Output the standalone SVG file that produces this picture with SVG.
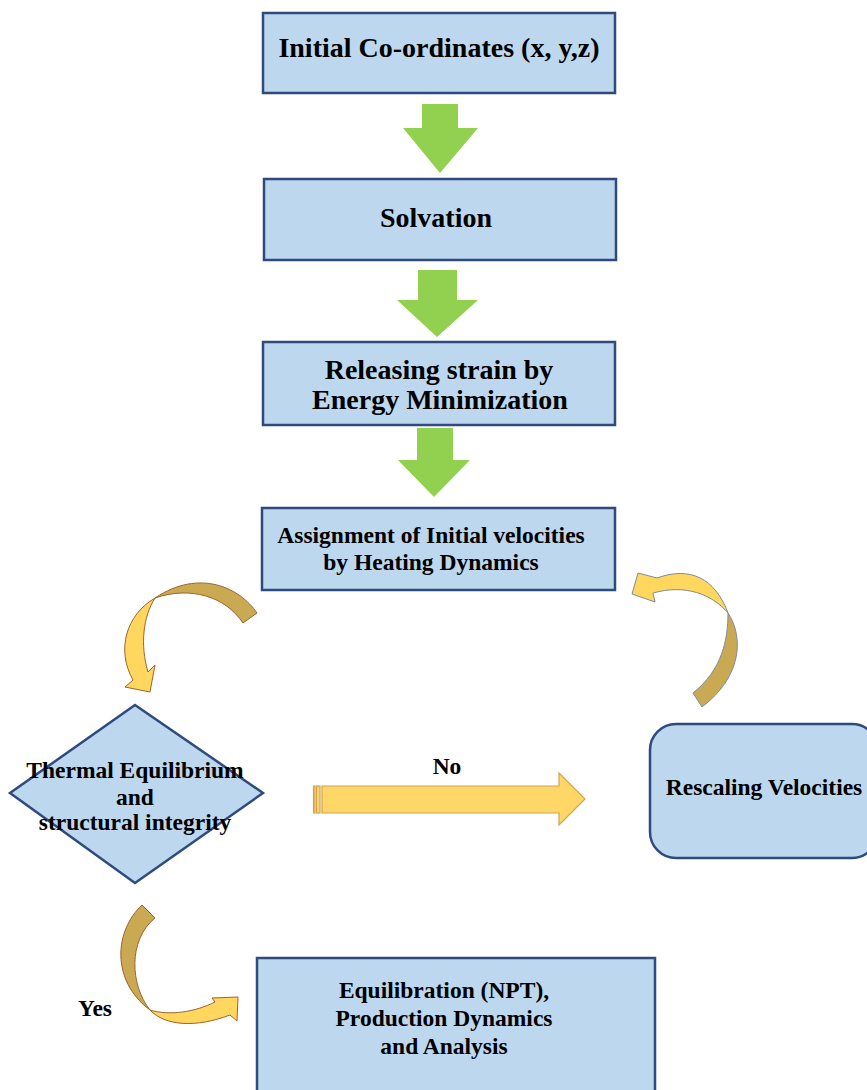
<svg xmlns="http://www.w3.org/2000/svg" width="867" height="1090" viewBox="0 0 867 1090">
  <style>
    .box { fill: #BDD7EE; stroke: #2F4A7C; stroke-width: 2.5; }
    .lbl { font-family: "Liberation Serif", "Times New Roman", serif; font-weight: bold; fill: #000; text-anchor: middle; }
    .big { font-size: 28px; }
    .mid { font-size: 23.5px; }
    .down { fill: #92D050; }
    .dark { fill: #C9AA52; }
    .light { fill: #FFD75F; }
    .brown { stroke: #A0622D; stroke-width: 1; stroke-linejoin: round; }
    .grey { stroke: #7E8C9E; stroke-width: 1; stroke-linejoin: round; }
    .flat { fill: #FFD766; stroke: #D2A355; stroke-width: 1.2; }
  </style>

  <rect width="867" height="1090" fill="#FFFFFF"/>

  <!-- process steps -->
  <g id="n-coords">
    <rect class="box" x="263" y="13" width="352" height="80"/>
    <text class="lbl big" x="439" y="57">Initial Co-ordinates (x, y,z)</text>
  </g>
  <g id="n-solvation">
    <rect class="box" x="264" y="179" width="352" height="81"/>
    <text class="lbl big" x="436" y="227">Solvation</text>
  </g>
  <g id="n-minimization">
    <rect class="box" x="263" y="342" width="352" height="83"/>
    <text class="lbl big" x="439" y="379">Releasing strain by</text>
    <text class="lbl big" x="440" y="409">Energy Minimization</text>
  </g>
  <g id="n-heating">
    <rect class="box" x="262" y="508" width="353" height="82"/>
    <text class="lbl mid" x="431" y="543">Assignment of Initial velocities</text>
    <text class="lbl mid" x="431" y="570">by Heating Dynamics</text>
  </g>
  <g id="n-check">
    <polygon class="box" points="135,705 263,793 135,883 10,793"/>
    <text class="lbl mid" x="135" y="778">Thermal Equilibrium</text>
    <text class="lbl mid" x="135" y="805">and</text>
    <text class="lbl mid" x="135" y="830">structural integrity</text>
  </g>
  <g id="n-rescale">
    <rect class="box" x="650" y="724" width="228" height="134" rx="26" ry="26"/>
    <text class="lbl mid" x="764" y="795">Rescaling Velocities</text>
  </g>
  <g id="n-production">
    <rect class="box" x="257" y="958" width="398" height="140"/>
    <text class="lbl mid" x="444" y="998">Equilibration (NPT),</text>
    <text class="lbl mid" x="444" y="1026">Production Dynamics</text>
    <text class="lbl mid" x="444" y="1054">and Analysis</text>
  </g>

  <!-- connectors -->
  <g id="connectors">
    <!-- block arrows between the steps -->
    <polygon class="down" points="422,104 458,104 458,128 478,128 440,173 403,128 422,128"/>
    <polygon class="down" points="418,270 457,270 457,300 478,300 437,337 397,300 418,300"/>
    <polygon class="down" points="417,428 453,428 453,460 470,460 434,497 398,460 417,460"/>

    <!-- heating to check -->
    <path class="dark brown" d="M257,613 C240,588 200,568 155,598 C190,586 225,596 243,623 Z"/>
    <path class="light brown" d="M155,598 C126,615 116,650 133,680 L125,687 L150,692 L155,665 L148,672 C140,645 143,617 155,598 Z"/>

    <!-- rescale back to heating -->
    <path class="dark grey" d="M728,613 C744,637 742,677 702,707 L693,693 C722,670 728,640 728,613 Z"/>
    <path class="light grey" d="M728,613 C715,578 690,566 657,578 L638,573 L632,594 L655,602 L653,593 C685,584 712,594 728,613 Z"/>

    <!-- check to production (Yes) -->
    <path class="dark brown" d="M142,905 C115,930 110,980 150,1010 C130,985 128,940 155,918 Z"/>
    <path class="light brown" d="M150,1010 C165,1026 196,1028 230,1015 L237,1021 L238,997 L212,998 L215,1002 C195,1012 170,1016 150,1010 Z"/>

    <!-- check to rescale (No) -->
    <rect class="flat" x="313.5" y="786" width="1.5" height="27"/>
    <rect class="flat" x="316.5" y="786" width="3.5" height="27"/>
    <polygon class="flat" points="322,786 559,786 559,773 585,799 559,825 559,813 322,813"/>

    <text class="lbl mid" x="447" y="774">No</text>
    <text class="lbl mid" x="95" y="1016">Yes</text>
  </g>
</svg>
